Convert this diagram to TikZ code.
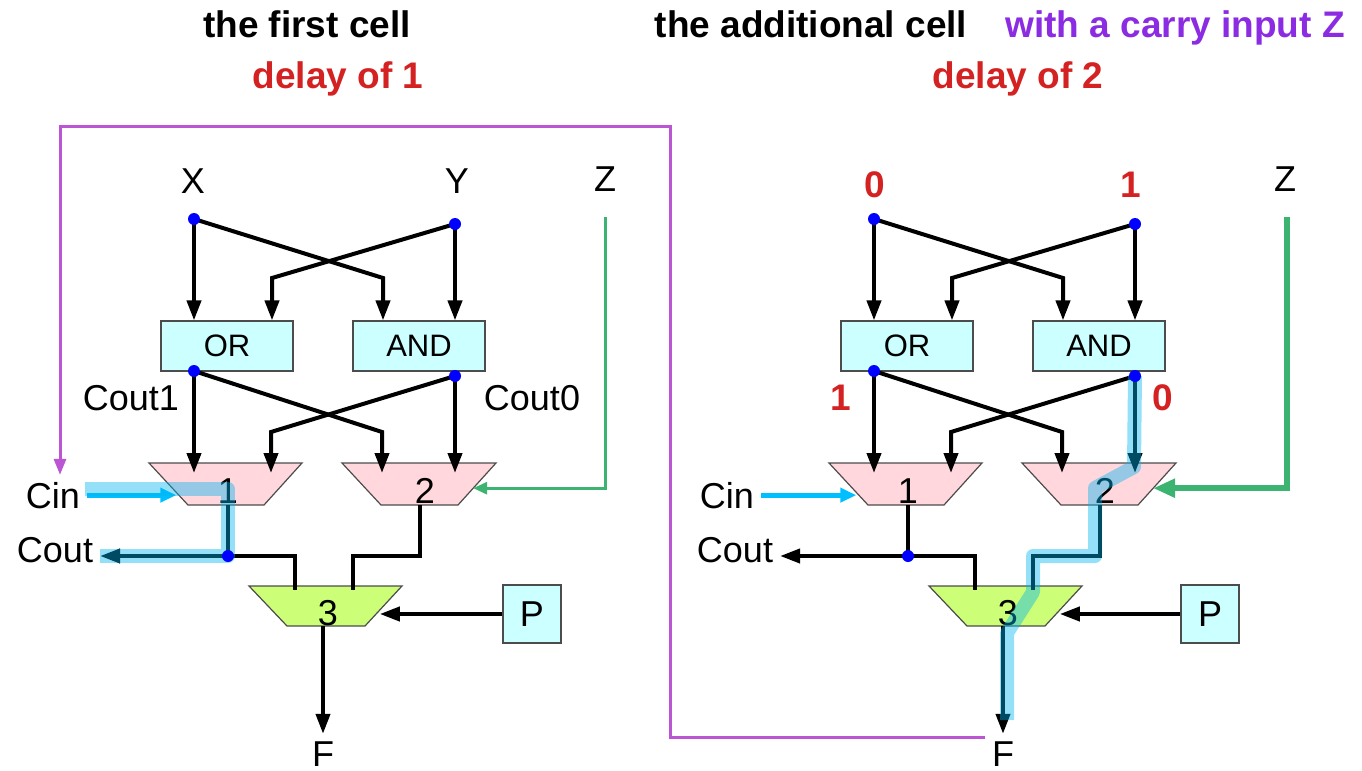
\documentclass[tikz,border=0pt]{standalone}
\usepackage{fontspec}
\setmainfont{Liberation Sans}
\usepackage{xcolor}
\usetikzlibrary{positioning, calc, arrows.meta}

\definecolor{gatecyan}{HTML}{CCFFFF}
\definecolor{muxpink}{HTML}{FFD7DD}
\definecolor{muxlime}{HTML}{CCFF77}
\definecolor{delayred}{HTML}{D42121}
\definecolor{carryviolet}{HTML}{8B2BE2}
\definecolor{carryline}{HTML}{BB55D3}
\definecolor{zgreen}{HTML}{3CB371}
\definecolor{cincyan}{HTML}{00BFFF}
\definecolor{pathblue}{HTML}{00B4F0}

\begin{document}
\begin{tikzpicture}[x=0.5pt, y=-0.5pt,
    wire/.style={line width=2pt},
    arr/.style={wire, -{Triangle[length=10pt, width=7pt]}},
    inarr/.style={arr, shorten >=-5pt},
    gate/.style={draw=black!70, fill=gatecyan, line width=0.6pt, minimum width=66pt, minimum height=25pt, inner sep=0pt, font=\fontsize{15.5}{18}\selectfont},
    pbox/.style={draw=black!70, fill=gatecyan, line width=0.6pt, minimum size=29pt, inner sep=0pt, font=\fontsize{18}{21}\selectfont},
    muxline/.style={draw=black!70, line width=0.6pt, line join=miter},
    lbl/.style={anchor=base, font=\fontsize{18}{21}\selectfont},
    outlbl/.style={lbl, inner ysep=1.5pt},
    title/.style={anchor=base, font=\fontsize{18.5}{22}\selectfont\bfseries},
    bit/.style={title, text=delayred},
    cinarrow/.style={cincyan, line width=2.5pt, -{Triangle[length=8pt, width=7pt]}},
    zarrow/.style={zgreen, line width=1.5pt, -{Triangle[length=7pt, width=6pt]}},
    zbold/.style={zgreen, line width=3pt, -{Triangle[length=11pt, width=9pt]}},
    carry/.style={carryline, line width=1.5pt, -{Triangle[length=8pt, width=6pt]}},
    hilite/.style={pathblue, opacity=0.42, line width=7pt, line join=round}]
  \useasboundingbox (0,0) rectangle (1362,771);

  % titles
  \node[title] (ltitle) at (307,38) {the first cell};
  \node[title, text=delayred] (ldelay) at (338,88) {delay of 1};
  \node[title] (rtitle) at (811,38) {the additional cell};
  \node[title, text=carryviolet] (rcarry) at (1175,38) {with a carry input Z};
  \node[title, text=delayred] (rdelay) at (1018,88) {delay of 2};

  % ---------- first cell ----------
  \node[lbl] (lx) at (193,193) {X};
  \node[lbl] (ly) at (457,193) {Y};
  \node[lbl] (lz) at (605,191) {Z};
  \coordinate (lxd) at (194,219);
  \coordinate (lyd) at (455,224);
  \coordinate (lxb) at (383,278);
  \coordinate (lyb) at (272,278);
  \node[gate] (lor) at (227,346) {OR};
  \node[gate] (land) at (419,346) {AND};
  \draw[arr] (lxd) -- (lxd |- lor.north);
  \draw[arr] (lxd) -- (lxb) -- (lxb |- land.north);
  \draw[arr] (lyd) -- (lyd |- land.north);
  \draw[arr] (lyd) -- (lyb) -- (lyb |- lor.north);

  \node[lbl] (lc1) at (131,410) {Cout1};
  \node[lbl] (lc0) at (532,410) {Cout0};
  \coordinate (lord) at (194,371);
  \coordinate (landd) at (455,376);
  \coordinate (lob) at (382,432);
  \coordinate (lab) at (271,432);
  \draw[muxline, fill=muxpink] (149,463) coordinate (lm1nw) -- (302,463) coordinate (lm1ne)
    -- (264,505) coordinate (lm1se) -- (188,505) coordinate (lm1sw) -- cycle;
  \draw[muxline, fill=muxpink] (342,463) coordinate (lm2nw) -- (496,463) coordinate (lm2ne)
    -- (458,505) coordinate (lm2se) -- (381,505) coordinate (lm2sw) -- cycle;
  \draw[muxline, fill=muxlime] (249,586) coordinate (lm3nw) -- (402,586) coordinate (lm3ne)
    -- (365,626) coordinate (lm3se) -- (287,626) coordinate (lm3sw) -- cycle;
  \node[lbl] (ln1) at (228,503) {1};
  \node[lbl] (ln2) at (425,503) {2};
  \node[lbl] (ln3) at (328,625) {3};
  \draw[inarr] (lord) -- (lord |- lm1nw);
  \draw[inarr] (lord) -- (lob) -- (lob |- lm2nw);
  \draw[inarr] (landd) -- (lab) -- (lab |- lm1nw);
  \draw[inarr] (landd) -- (landd |- lm2nw);

  \coordinate (lzt) at (605,217);
  \coordinate (lm2e) at ($(lm2ne)!0.6!(lm2se)$);
  \draw[zarrow] (lzt) |- (lm2e);

  \node[lbl] (lcin) at (53,508) {Cin};
  \node[lbl] (lcout) at (55,562) {Cout};
  \coordinate (lm1w) at ($(lm1nw)!0.7!(lm1sw)$);
  \draw[cinarrow] (lcin.east) -- (lcin.east -| lm1w);
  \coordinate (lj) at (228,556);
  \coordinate (lm2s) at ($(lm2sw)!0.5!(lm2se)$);
  \coordinate (lm3a) at (295,590);
  \coordinate (lm3b) at (353,590);
  \draw[wire] (lj |- lm1sw) -- (lj);
  \draw[arr] (lj) -- (lj -| lcout.east);
  \draw[wire] (lj) -| (lm3a);
  \draw[wire] (lm2s) -- ++(0,51) -| (lm3b);

  \node[pbox] (lp) at (532,614) {P};
  \coordinate (lm3e) at ($(lm3ne)!0.6!(lm3se)$);
  \draw[arr] (lp.west) -- (lp.west -| lm3e);
  \node[outlbl] (lf) at (323,766) {F};
  \draw[arr, shorten >=2pt] (lf.north |- lm3sw) -- (lf.north);

  % ---------- additional cell ----------
  \node[bit] (rx) at (875,197) {0};
  \node[bit] (ry) at (1131,197) {1};
  \node[lbl] (rz) at (1285,191) {Z};
  \coordinate (rxd) at (874,219);
  \coordinate (ryd) at (1135,224);
  \coordinate (rxb) at (1063,278);
  \coordinate (ryb) at (952,278);
  \node[gate] (ror) at (907,346) {OR};
  \node[gate] (rand) at (1099,346) {AND};
  \draw[arr] (rxd) -- (rxd |- ror.north);
  \draw[arr] (rxd) -- (rxb) -- (rxb |- rand.north);
  \draw[arr] (ryd) -- (ryd |- rand.north);
  \draw[arr] (ryd) -- (ryb) -- (ryb |- ror.north);

  \node[bit] (rc1) at (841,410) {1};
  \node[bit] (rc0) at (1163,410) {0};
  \coordinate (rord) at (874,371);
  \coordinate (randd) at (1135,376);
  \coordinate (rob) at (1062,432);
  \coordinate (rab) at (951,432);
  \draw[muxline, fill=muxpink] (829,463) coordinate (rm1nw) -- (982,463) coordinate (rm1ne)
    -- (944,505) coordinate (rm1se) -- (868,505) coordinate (rm1sw) -- cycle;
  \draw[muxline, fill=muxpink] (1022,463) coordinate (rm2nw) -- (1176,463) coordinate (rm2ne)
    -- (1138,505) coordinate (rm2se) -- (1061,505) coordinate (rm2sw) -- cycle;
  \draw[muxline, fill=muxlime] (929,586) coordinate (rm3nw) -- (1082,586) coordinate (rm3ne)
    -- (1045,626) coordinate (rm3se) -- (967,626) coordinate (rm3sw) -- cycle;
  \node[lbl] (rn1) at (908,503) {1};
  \node[lbl] (rn2) at (1105,503) {2};
  \node[lbl] (rn3) at (1008,625) {3};
  \draw[inarr] (rord) -- (rord |- rm1nw);
  \draw[inarr] (rord) -- (rob) -- (rob |- rm2nw);
  \draw[inarr] (randd) -- (rab) -- (rab |- rm1nw);
  \draw[inarr] (randd) -- (randd |- rm2nw);

  \coordinate (rzt) at (1287,217);
  \coordinate (rm2e) at ($(rm2ne)!0.6!(rm2se)$);
  \draw[zbold] (rzt) |- (rm2e);

  \node[lbl] (rcin) at (727,508) {Cin};
  \node[lbl] (rcout) at (735,562) {Cout};
  \coordinate (rm1w) at ($(rm1nw)!0.7!(rm1sw)$);
  \draw[cinarrow] (rcin.east) -- (rcin.east -| rm1w);
  \coordinate (rj) at (908,556);
  \coordinate (rm2s) at ($(rm2sw)!0.5!(rm2se)$);
  \coordinate (rm3a) at (975,590);
  \coordinate (rm3b) at (1033,590);
  \draw[wire] (rj |- rm1sw) -- (rj);
  \draw[arr] (rj) -- (rj -| rcout.east);
  \draw[wire] (rj) -| (rm3a);
  \draw[wire] (rm2s) -- ++(0,51) -| (rm3b);

  \node[pbox] (rp) at (1210,614) {P};
  \coordinate (rm3e) at ($(rm3ne)!0.6!(rm3se)$);
  \draw[arr] (rp.west) -- (rp.west -| rm3e);
  \node[outlbl] (rf) at (1003,766) {F};
  \draw[arr, shorten >=2pt] (rf.north |- rm3sw) -- (rf.north);

  % carry from F back to Cin
  \coordinate (cz) at (985,737);
  \coordinate (ctop) at (60,126);
  \draw[carry] (cz) -| (670,126) -- (ctop) -- (ctop |- lcin.north);

  % highlighted paths
  \coordinate (lhs) at (85,489);
  \draw[hilite] (lhs) -| (lj) -- (lj -| lcout.east);
  \draw[hilite] (randd) -- (1134,467) -- (1095,488) -- (1095,556) -- (1033,556) -- (1033,592) -- (1007,633) -- (1007,720);

  % junction dots
  \fill[blue] (lxd) circle[radius=6];
  \fill[blue] (lyd) circle[radius=6];
  \fill[blue] (lord) circle[radius=6];
  \fill[blue] (landd) circle[radius=6];
  \fill[blue] (lj) circle[radius=6];
  \fill[blue] (rxd) circle[radius=6];
  \fill[blue] (ryd) circle[radius=6];
  \fill[blue] (rord) circle[radius=6];
  \fill[blue] (randd) circle[radius=6];
  \fill[blue] (rj) circle[radius=6];
\end{tikzpicture}
\end{document}
